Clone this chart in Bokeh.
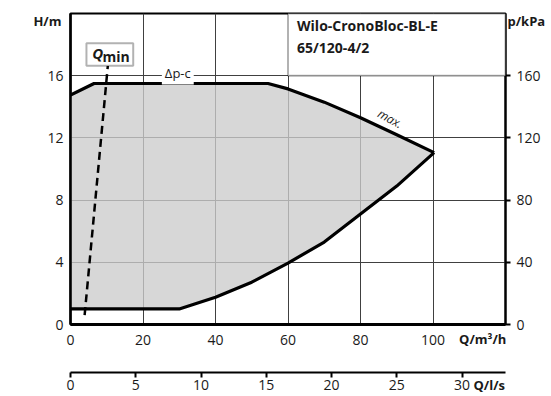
from bokeh.plotting import figure
from bokeh.models import Range1d, LinearAxis, FixedTicker, Label, BoxAnnotation
from bokeh.embed import file_html
from bokeh.resources import INLINE

# ---------------- data ----------------
q_upper = [0, 6.5, 54.5, 60, 70, 80, 90, 100.3]          # m3/h, "max." / Δp-c upper limit
h_upper = [14.75, 15.5, 15.5, 15.15, 14.3, 13.3, 12.2, 11.05]  # m
q_lower = [100.3, 90, 80, 70, 60, 50, 40, 30, 0]         # m3/h, lower limit (min speed)
h_lower = [11.05, 8.9, 7.1, 5.3, 3.95, 2.72, 1.75, 1.0, 1.0]
q_min_line = [3.9, 10.3]
h_min_line = [0.6, 16.64]

x_ticks = [0, 20, 40, 60, 80, 100]          # Q / m3/h
y_ticks = [0, 4, 8, 12, 16]                 # H / m
p_ticks = [0, 40, 80, 120, 160]             # p / kPa
ls_ticks = [0, 5, 10, 15, 20, 25, 30]       # Q / l/s

title_lines = ["Wilo-CronoBloc-BL-E", "65/120-4/2"]

FONT = "Open Sans"
TXT = "#1a1a1a"
EM = "\u2003"
EN = "\u2002"

p = figure(width=551, height=396, x_range=Range1d(0, 120), y_range=Range1d(0, 20),
           output_backend="svg", toolbar_location=None,
           min_border_left=70, min_border_right=46, min_border_top=13, min_border_bottom=72)
p.extra_y_ranges = {"kpa": Range1d(0, 200)}
p.extra_x_ranges = {"ls": Range1d(0, 120 / 3.6)}
p.background_fill_color = "white"
p.border_fill_color = "white"
p.outline_line_color = "black"
p.outline_line_width = 2

# grid
p.xgrid.ticker = FixedTicker(ticks=x_ticks)
p.ygrid.ticker = FixedTicker(ticks=y_ticks)
for g in (p.xgrid, p.ygrid):
    g.grid_line_color = "#404040"
    g.grid_line_width = 1

def style_axis(ax, ticks, tick_out, standoff, lw):
    ax.ticker = FixedTicker(ticks=ticks)
    ax.major_tick_out = tick_out
    ax.major_tick_in = 0
    ax.minor_tick_out = 0
    ax.minor_tick_in = 0
    ax.major_tick_line_width = 2
    ax.major_tick_line_color = "black"
    ax.major_label_standoff = standoff
    ax.major_label_text_font = FONT
    ax.major_label_text_font_size = "14px"
    ax.major_label_text_color = TXT
    ax.axis_line_width = lw
    ax.axis_line_color = "black"

def title_axis(ax, text, standoff, orientation="horizontal"):
    ax.axis_label = text
    ax.axis_label_standoff = standoff
    ax.axis_label_orientation = orientation
    ax.axis_label_align = "end"
    ax.axis_label_text_font = FONT
    ax.axis_label_text_font_style = "bold"
    ax.axis_label_text_font_size = "13px"
    ax.axis_label_text_color = TXT

xa = p.xaxis[0]
style_axis(xa, x_ticks, 0, 10, 3)
title_axis(xa, "Q/m³/h" + EM * 3 + EN, -18)

ya = p.yaxis[0]
style_axis(ya, y_ticks, 0, 7, 2.5)
title_axis(ya, "\nH/m", -17)
ya.axis_label_text_line_height = 0.8

ra = LinearAxis(y_range_name="kpa")
style_axis(ra, p_ticks, 5, 6, 2)
title_axis(ra, "\np/kPa", -36)
ra.axis_label_text_line_height = 0.8
p.add_layout(ra, "right")

# invisible spacer between the two flow axes
sp = LinearAxis(ticker=FixedTicker(ticks=[]), axis_line_color=None, major_tick_out=0,
                major_tick_in=0, minor_tick_out=0, minor_tick_in=0, major_label_standoff=0,
                axis_label=" ", axis_label_standoff=0, axis_label_text_font=FONT,
                axis_label_text_font_size="14px")
p.add_layout(sp, "below")

la = LinearAxis(x_range_name="ls")
style_axis(la, ls_ticks, 5, 2, 2)
title_axis(la, "Q/l/s" + EM * 2 + EN, -17)
p.add_layout(la, "below")

# operating field
p.patch(q_upper + q_lower, h_upper + h_lower, fill_color="#cccccc", fill_alpha=0.78,
        line_color=None)
p.line(q_upper, h_upper, line_color="black", line_width=3.2, line_join="round")
p.line(q_lower, h_lower, line_color="black", line_width=3.2, line_join="round")
p.line(q_min_line, h_min_line, line_color="black", line_width=2.5, line_dash="8 5")

# title box
p.add_layout(BoxAnnotation(left=60, right=120, bottom=16, top=20, fill_color="white",
                           fill_alpha=1, line_color="black", line_width=2, level="annotation"))
p.add_layout(Label(x=62.5, y=19.2, text=title_lines[0], text_font=FONT, text_font_style="bold",
                   text_font_size="14px", text_color=TXT, text_baseline="middle"))
p.add_layout(Label(x=62.5, y=17.83, text=title_lines[1], text_font=FONT, text_font_style="bold",
                   text_font_size="14px", text_color=TXT, text_baseline="middle"))

# Qmin box
p.add_layout(BoxAnnotation(left=4.4, right=17.3, bottom=16.64, top=18.08, fill_color="white",
                           fill_alpha=1, line_color="black", line_width=2, level="annotation"))
p.add_layout(Label(x=6.0, y=17.45, text="Q", text_font=FONT, text_font_style="bold italic",
                   text_font_size="15px", text_color=TXT, text_baseline="middle"))
p.add_layout(Label(x=8.8, y=17.25, text="min", text_font=FONT, text_font_style="bold",
                   text_font_size="14px", text_color=TXT, text_baseline="middle"))

# curve labels
p.add_layout(Label(x=29.6, y=16.2, text="Δp-c", text_font=FONT, text_font_size="13px",
                   text_color=TXT, text_align="center", text_baseline="middle",
                   background_fill_color="white", padding=3))
p.add_layout(Label(x=88.2, y=13.25, text="max.", text_font=FONT, text_font_size="12px",
                   text_font_style="italic", text_color=TXT, text_align="center",
                   text_baseline="middle", angle=-0.5))

open("out.html", "w").write(file_html(p, INLINE))
